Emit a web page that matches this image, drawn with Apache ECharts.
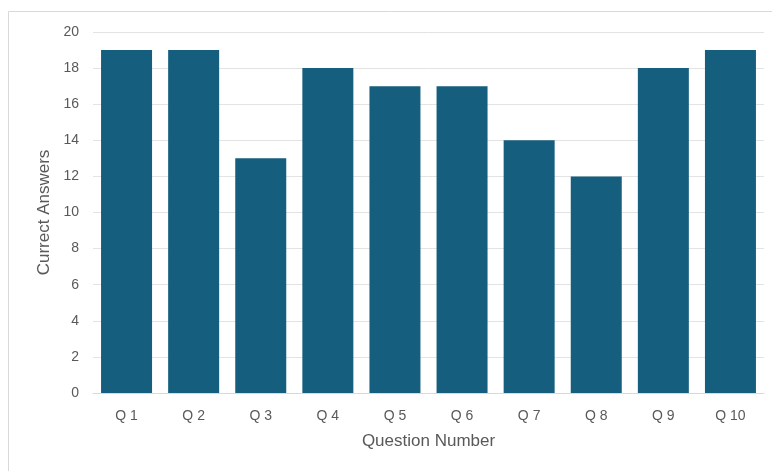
<!DOCTYPE html>
<html>
<head>
<meta charset="utf-8">
<script src="https://cdn.jsdelivr.net/npm/echarts@6/dist/echarts.min.js"></script>
<style>
  html, body { margin: 0; padding: 0; background: #fff; }
  #chart { width: 772px; height: 471px; }
</style>
</head>
<body>
<div id="chart"></div>
<script>
var questions = ['Q 1', 'Q 2', 'Q 3', 'Q 4', 'Q 5', 'Q 6', 'Q 7', 'Q 8', 'Q 9', 'Q 10'];
var correctAnswers = [19, 19, 13, 18, 17, 17, 14, 12, 18, 19];

var myChart = echarts.init(document.getElementById('chart'));
var textColor = '#595959';
var option = {
    animation: false,
    textStyle: { fontFamily: 'Liberation Sans' },
    graphic: [{
        type: 'rect',
        shape: { x: 8.5, y: 11.5, width: 800, height: 500 },
        style: { fill: 'none', stroke: '#d9d9d9', lineWidth: 1 }
    }],
    grid: { left: 93, right: 8, top: 32, bottom: 78 },
    xAxis: {
        type: 'category',
        data: questions,
        name: 'Question Number',
        nameLocation: 'middle',
        nameGap: 40,
        nameTextStyle: { color: textColor, fontSize: 17 },
        axisTick: { show: false },
        axisLine: { lineStyle: { color: '#d9d9d9' } },
        axisLabel: { color: textColor, fontSize: 14, margin: 16 }
    },
    yAxis: {
        type: 'value',
        min: 0, max: 20, interval: 2,
        name: 'Currect Answers',
        nameLocation: 'middle',
        nameGap: 38,
        nameTextStyle: { color: textColor, fontSize: 17 },
        axisLabel: { color: textColor, fontSize: 14, margin: 14 },
        splitLine: { lineStyle: { color: '#e3e3e3' } }
    },
    series: [{
        type: 'bar',
        data: correctAnswers,
        barCategoryGap: '24%',
        itemStyle: { color: '#155e7e' }
    }]
};
myChart.setOption(option);
</script>
</body>
</html>
